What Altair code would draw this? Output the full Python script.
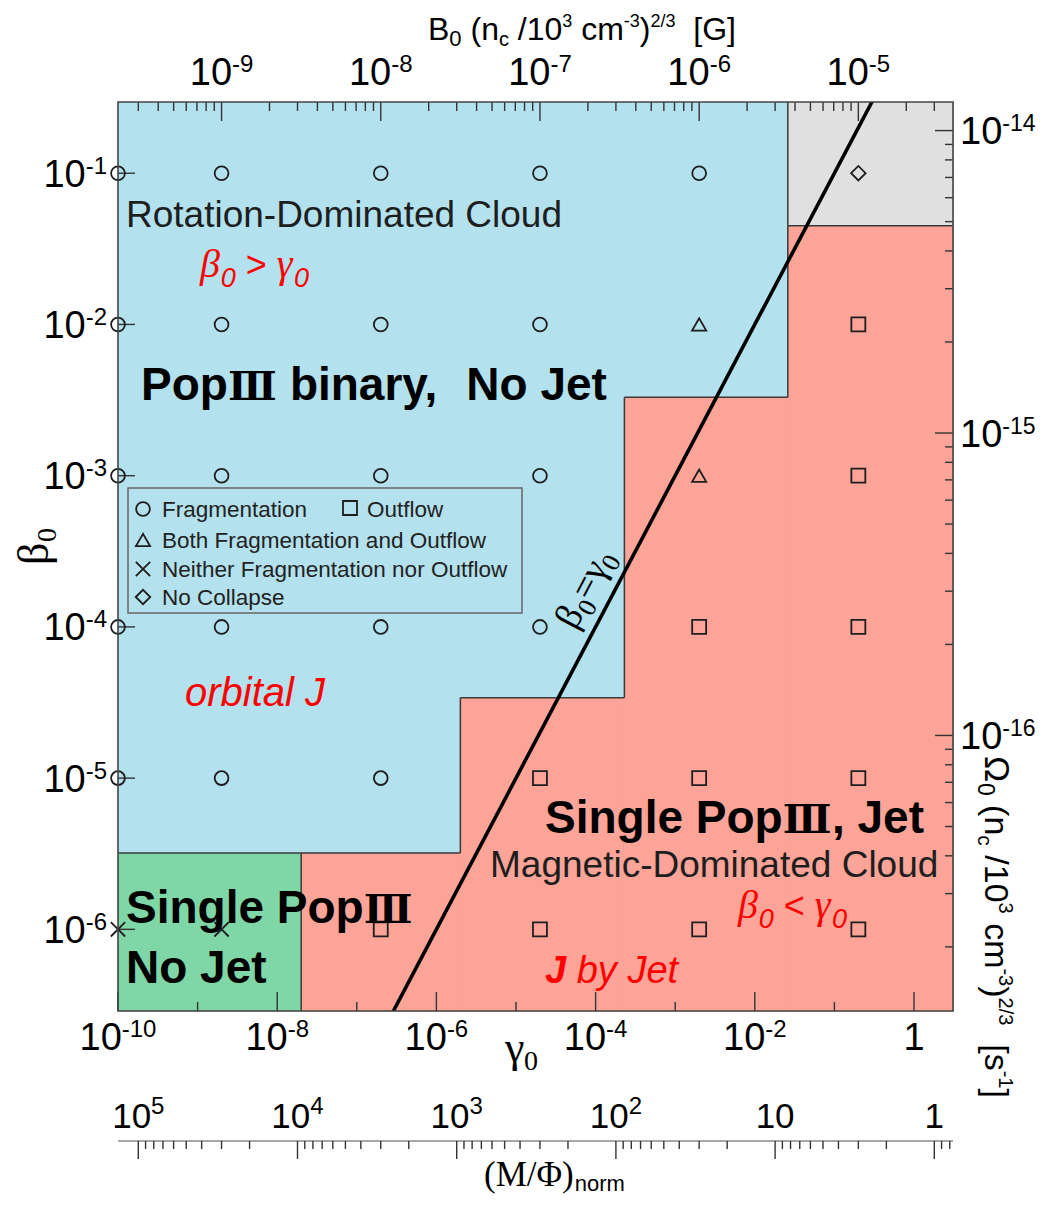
import math
import altair as alt
import pandas as pd

# ------------------------------------------------------------------ data
gamma_cols = [1e-10, 2e-9, 2e-7, 2e-5, 2e-3, 2e-1]
beta_rows = [1e-1, 1e-2, 1e-3, 1e-4, 1e-5, 1e-6]
OUTCOMES = ["Fragmentation", "Outflow", "Both Fragmentation and Outflow",
            "Neither Fragmentation nor Outflow", "No Collapse"]
F, O, B, N, C = OUTCOMES
outcome_grid = [
    [F, F, F, F, F, C],
    [F, F, F, F, B, O],
    [F, F, F, F, B, O],
    [F, F, F, F, O, O],
    [F, F, F, O, O, O],
    [N, N, O, O, O, O],
]
# corners of the magnetic-dominated (red) staircase region
step_gamma = [2e-8, 2e-6, 2.3e-4, 2.6e-2]
step_beta = [3.2e-6, 3.4e-5, 3.3e-3, 4.5e-2]
# beta0 = gamma0 line
line_gamma = [1e-7, 1.0]
line_beta = [1e-7, 1.0]

GMIN, GMAX = 1e-10, 10 ** 0.49
BMIN, BMAX = 10 ** -6.54, 10 ** -0.529

# secondary-axis calibrations
B_REF = (2e-9, 1e-9)            # gamma -> B0      (B ∝ gamma^1/2)
OM_REF = (10 ** -0.718, 1e-14)  # beta  -> Omega0  (Ω ∝ beta^1/2)
MP_REF = (10 ** -9.745, 1e5)    # gamma -> (M/Φ)   (∝ gamma^-1/2)

g_exps = [-10, -8, -6, -4, -2, 0]
b_exps = [-1, -2, -3, -4, -5, -6]
B_exps = [-9, -8, -7, -6, -5]
Om_exps = [-14, -15, -16]
MP_exps = [5, 4, 3, 2, 1, 0]

# ------------------------------------------------------------------ layout / style
W, H = 835, 909
X0, Y0 = 118, 102
MP_OFFSET = 130

BLUE = "#B3E1EE"
RED_FILL = "#FBA497"
GREEN = "#7FD6A6"
GRAY = "#E0E0E0"
RED = "#FF0000"
TICK = "#333333"
SANS = "Liberation Sans, DejaVu Sans"
ROMAN = "DejaVu Serif, Noto Sans CJK JP"
SERIF = "Liberation Serif, DejaVu Serif"

ARIAL = {" ": 278, "(": 333, ")": 333, "/": 278, "-": 333, "[": 278, "]": 278, "<": 584, ">": 584,
         "=": 584, "B": 667, "G": 778, "J": 500, "M": 833, "Ω": 768, "a": 556, "b": 556, "c": 500,
         "e": 556, "i": 222, "l": 222, "m": 833, "n": 556, "o": 556, "r": 333, "s": 500, "t": 278,
         "u": 556, "y": 500}
ARIAL_B = {" ": 278, ",": 278, "P": 667, "S": 667, "N": 722, "J": 556, "o": 611, "p": 611, "i": 278,
           "n": 611, "g": 611, "l": 278, "e": 556, "b": 611, "a": 556, "r": 389, "y": 556, "t": 333}
TIMES = {"β": 520, "γ": 430, "=": 564, "(": 333, ")": 333, "/": 278, "M": 889, "Φ": 760, " ": 250}
SERIF_STYLES = {"serif", "r_serif_it"}


def text_w(t, style, size):
    if style in SERIF_STYLES:
        table, dflt = TIMES, 500
    elif style in ("bold", "r_sans_bi"):
        table, dflt = ARIAL_B, 611
    elif style == "roman":
        table, dflt = {}, 1230
    else:
        table, dflt = ARIAL, 556
    return sum(table.get(ch, dflt) for ch in t) / 1000.0 * size


def pow_parts(e):
    if e == 0:
        return "1", ""
    if e == 1:
        return "10", ""
    return "10", str(e)


def decade_ticks(lo, hi, ks):
    out = []
    for d in range(math.floor(math.log10(lo)) - 1, math.ceil(math.log10(hi)) + 2):
        for k in ks:
            v = k * 10.0 ** d
            if lo * (1 - 1e-9) <= v <= hi * (1 + 1e-9):
                out.append(v)
    return out


B_lo = B_REF[1] * (GMIN / B_REF[0]) ** 0.5
B_hi = B_REF[1] * (GMAX / B_REF[0]) ** 0.5
OM_lo = OM_REF[1] * (BMIN / OM_REF[0]) ** 0.5
OM_hi = OM_REF[1] * (BMAX / OM_REF[0]) ** 0.5
MP_hi = MP_REF[1] * (GMIN / MP_REF[0]) ** -0.5
MP_lo = MP_REF[1] * (GMAX / MP_REF[0]) ** -0.5

XS = alt.Scale(type="log", domain=[GMIN, GMAX], nice=False)
YS = alt.Scale(type="log", domain=[BMIN, BMAX], nice=False)
BS = alt.Scale(type="log", domain=[B_lo, B_hi], nice=False)
OS = alt.Scale(type="log", domain=[OM_lo, OM_hi], nice=False)
MS = alt.Scale(type="log", domain=[MP_lo, MP_hi], reverse=True, nice=False)


def enc_x(f, sc):
    return alt.X(f, type="quantitative", scale=sc, axis=None)


def enc_y(f, sc):
    return alt.Y(f, type="quantitative", scale=sc, axis=None)


def gx(f):
    return enc_x(f, XS)


def by(f):
    return enc_y(f, YS)


# ------------------------------------------------------------------ tick-label helpers
def hlabels(exps, sc, y_main, raise_, size_main, size_exp):
    """horizontal-axis labels 10^e centred on their ticks (through the scale sc)."""
    rows = []
    for e in exps:
        base, ex = pow_parts(e)
        rows.append({"v": 10.0 ** e, "base": base, "exp": ex})
    df = pd.DataFrame(rows)
    df["w"] = [round(text_w(x, "title", size_exp), 1) for x in df["exp"]]
    layers = []
    w10 = text_w("10", "title", size_main)
    for w, sub in df.groupby("w"):
        if w == 0:
            layers.append(alt.Chart(sub).mark_text(
                align="center", baseline="alphabetic", font=SANS, fontSize=size_main, color="black").encode(
                x=enc_x("v", sc), y=alt.value(y_main), text="base:N"))
            continue
        j = (w10 - w) / 2
        layers.append(alt.Chart(sub).mark_text(
            align="right", baseline="alphabetic", dx=j, font=SANS, fontSize=size_main, color="black").encode(
            x=enc_x("v", sc), y=alt.value(y_main), text="base:N"))
        layers.append(alt.Chart(sub).mark_text(
            align="left", baseline="alphabetic", dx=j, font=SANS, fontSize=size_exp, color="black").encode(
            x=enc_x("v", sc), y=alt.value(y_main - raise_), text="exp:N"))
    return layers


def vlabels(exps, sc, side, pad, raise_, size_main, size_exp):
    rows = [{"v": 10.0 ** e, "base": pow_parts(e)[0], "exp": pow_parts(e)[1]} for e in exps]
    df = pd.DataFrame(rows)
    wexp = max(text_w(x, "title", size_exp) for x in df["exp"])
    w10 = text_w("10", "title", size_main)
    dy = 0.358 * size_main
    if side == "left":
        xa, dxb, dxe, alb = 0, -(pad + wexp), -(pad + wexp), "right"
    else:
        xa, dxb, dxe, alb = W, pad, pad + w10, "left"
    return [
        alt.Chart(df).mark_text(align=alb, baseline="alphabetic", dx=dxb, dy=dy, font=SANS,
                                fontSize=size_main, color="black").encode(
            y=enc_y("v", sc), x=alt.value(xa), text="base:N"),
        alt.Chart(df).mark_text(align="left", baseline="alphabetic", dx=dxe, dy=dy - raise_, font=SANS,
                                fontSize=size_exp, color="black").encode(
            y=enc_y("v", sc), x=alt.value(xa), text="exp:N"),
    ]


# ------------------------------------------------------------------ main panel
bg_df = pd.DataFrame({"g1": [GMIN], "g2": [GMAX], "b1": [BMIN], "b2": [BMAX]})
blue_bg = alt.Chart(bg_df).mark_rect(color=BLUE, opacity=1).encode(
    x=gx("g1"), x2="g2", y=by("b1"), y2="b2")

red_df = pd.DataFrame({"g1": step_gamma, "g2": step_gamma[1:] + [GMAX],
                       "b1": [BMIN] * len(step_beta), "b2": step_beta})
red_rects = alt.Chart(red_df).mark_rect(color=RED_FILL, opacity=1, stroke=RED_FILL, strokeWidth=0.8).encode(
    x=gx("g1"), x2="g2", y=by("b1"), y2="b2")

green_df = pd.DataFrame({"g1": [GMIN], "g2": [step_gamma[0]], "b1": [BMIN], "b2": [step_beta[0]]})
green_rect = alt.Chart(green_df).mark_rect(color=GREEN, opacity=1).encode(
    x=gx("g1"), x2="g2", y=by("b1"), y2="b2")

gray_df = pd.DataFrame({"g1": [step_gamma[-1]], "g2": [GMAX], "b1": [step_beta[-1]], "b2": [BMAX]})
gray_rect = alt.Chart(gray_df).mark_rect(color=GRAY, opacity=1).encode(
    x=gx("g1"), x2="g2", y=by("b1"), y2="b2")

segs = [(GMIN, step_beta[0], step_gamma[0], step_beta[0]),
        (step_gamma[0], BMIN, step_gamma[0], step_beta[0])]
for i in range(len(step_gamma) - 1):
    segs.append((step_gamma[i], step_beta[i], step_gamma[i + 1], step_beta[i]))
    segs.append((step_gamma[i + 1], step_beta[i], step_gamma[i + 1], step_beta[i + 1]))
segs.append((step_gamma[-1], step_beta[-1], GMAX, step_beta[-1]))
segs.append((step_gamma[-1], step_beta[-1], step_gamma[-1], BMAX))
seg_df = pd.DataFrame(segs, columns=["g1", "b1", "g2", "b2"])
bounds = alt.Chart(seg_df).mark_rule(color="#3a3a3a", strokeWidth=1.5).encode(
    x=gx("g1"), x2="g2", y=by("b1"), y2="b2")

line_df = pd.DataFrame({"g": line_gamma, "b": line_beta})
eq_line = alt.Chart(line_df).mark_line(color="black", strokeWidth=3.6, clip=True).encode(
    x=gx("g"), y=by("b"))

pts = []
for i, bv in enumerate(beta_rows):
    for j, gv in enumerate(gamma_cols):
        pts.append({"g": gv, "b": bv, "outcome": outcome_grid[i][j]})
pts_df = pd.DataFrame(pts)
SHAPE_SCALE = alt.Scale(domain=OUTCOMES,
                        range=["circle", "square", "triangle-up", "M-1,-1L1,1M-1,1L1,-1", "diamond"])
SIZE_SCALE = alt.Scale(domain=OUTCOMES, range=[190, 210, 260, 190, 400])
points = alt.Chart(pts_df).mark_point(filled=False, color="#1e1e1e", strokeWidth=1.8, opacity=1).encode(
    x=gx("g"), y=by("b"),
    shape=alt.Shape("outcome:N", scale=SHAPE_SCALE, legend=None),
    size=alt.Size("outcome:N", scale=SIZE_SCALE, legend=None))

gmaj = pd.DataFrame({"g": [10.0 ** e for e in range(-10, 1, 2)]})
gmin = pd.DataFrame({"g": [10.0 ** e for e in range(-9, 0, 2)]})
bt_major = alt.Chart(gmaj).mark_rule(color=TICK, strokeWidth=1.4).encode(
    x=gx("g"), y=alt.value(H), y2=alt.value(H - 19))
bt_minor = alt.Chart(gmin).mark_rule(color=TICK, strokeWidth=1.4).encode(
    x=gx("g"), y=alt.value(H), y2=alt.value(H - 9))
bmaj = pd.DataFrame({"b": [10.0 ** e for e in b_exps]})
lt_major = alt.Chart(bmaj).mark_rule(color=TICK, strokeWidth=1.4).encode(
    y=by("b"), x=alt.value(0), x2=alt.value(17))

main = alt.layer(blue_bg, red_rects, green_rect, gray_rect, bounds, bt_major, bt_minor, lt_major,
                 eq_line, points,
                 *hlabels(g_exps, XS, H + 39, 13, 38, 24),
                 *vlabels(b_exps, YS, "left", 11, 13, 38, 24))

# ------------------------------------------------------------------ secondary axes
b_maj = decade_ticks(B_lo, B_hi, [1])
b_min = decade_ticks(B_lo, B_hi, range(2, 10))
top_df = pd.DataFrame({"B": b_maj + b_min, "len": [19] * len(b_maj) + [9] * len(b_min)})
top_ticks = alt.Chart(top_df).mark_rule(color=TICK, strokeWidth=1.4).encode(
    x=enc_x("B", BS), y=alt.Y("len:Q", scale=None, axis=None), y2=alt.value(0))
top_axis = alt.layer(top_ticks, *hlabels(B_exps, BS, -17, 13, 38, 24))

om_maj = decade_ticks(OM_lo, OM_hi, [1])
om_min = decade_ticks(OM_lo, OM_hi, range(2, 10))
om_df = pd.DataFrame({"Om": om_maj + om_min, "len": [18] * len(om_maj) + [8] * len(om_min)})
right_ticks = alt.Chart(om_df).mark_rule(color=TICK, strokeWidth=1.4).transform_calculate(
    xs=f"{W} - datum.len").encode(
    y=enc_y("Om", OS), x=alt.X("xs:Q", scale=None, axis=None), x2=alt.value(W))
right_axis = alt.layer(right_ticks, *vlabels(Om_exps, OS, "right", 7, 13, 38, 23))

mp_maj = decade_ticks(MP_lo, MP_hi, [1])
mp_min = decade_ticks(MP_lo, MP_hi, range(2, 10))
mp_df = pd.DataFrame({"M": mp_maj + mp_min, "len": [18] * len(mp_maj) + [8] * len(mp_min)})
YM = H + MP_OFFSET
mp_line = alt.Chart(pd.DataFrame({"M1": [MP_hi], "M2": [MP_lo]})).mark_rule(
    color="#a8a8a8", strokeWidth=2.2).encode(x=enc_x("M1", MS), x2="M2", y=alt.value(YM))
mp_ticks = alt.Chart(mp_df).mark_rule(color=TICK, strokeWidth=1.4).transform_calculate(
    ya=f"{YM}", yb=f"{YM} + datum.len").encode(
    x=enc_x("M", MS), y=alt.Y("ya:Q", scale=None, axis=None), y2=alt.Y2("yb:Q"))
mphi_axis = alt.layer(mp_line, mp_ticks, *hlabels(MP_exps, MS, YM - 13, 14, 35, 24))


# ------------------------------------------------------------------ annotations (rich text)
def rich(segs_, x, y, angle=0.0, anchor="start"):
    a = math.radians(angle)
    ca, sa = math.cos(a), math.sin(a)
    widths = [text_w(t, st, sz) for (t, st, sz, sh) in segs_]
    total = sum(widths)
    off = {"start": 0.0, "middle": -total / 2, "end": -total}[anchor]
    rows = []
    for (t, st, sz, sh), w in zip(segs_, widths):
        lead = text_w(t[: len(t) - len(t.lstrip())], st, sz)
        o = off + lead
        px = x + o * ca - sh * sa
        py = y + o * sa + sh * ca
        rows.append({"text": t.strip(), "style": st, "size": sz, "angle": angle % 360,
                     "px": px - X0, "py": py - Y0})
        off += w
    return rows


ann = []
ann += rich([("Rotation-Dominated Cloud", "sans", 37, 0)], 126, 227)
ann += rich([("Magnetic-Dominated Cloud", "sans", 37, 0)], 490, 877)
ann += rich([("Pop", "bold", 46, 0), ("Ⅲ", "roman", 40, 0), (" binary,", "bold", 46, 0),
             ("  No Jet", "bold", 46, 0)], 141, 400)
ann += rich([("Single Pop", "bold", 46, 0), ("Ⅲ", "roman", 40, 0), (", Jet", "bold", 46, 0)], 545, 833)
ann += rich([("Single Pop", "bold", 46, 0), ("Ⅲ", "roman", 40, 0)], 126, 923)
ann += rich([("No Jet", "bold", 46, 0)], 126, 983)
ann += rich([("β", "r_serif_it", 40, 0), ("0", "r_sans_it", 27, 10), (" > ", "r_sans", 36, 0),
             ("γ", "r_serif_it", 40, 0), ("0", "r_sans_it", 27, 10)], 200, 277)
ann += rich([("β", "r_serif_it", 40, 0), ("0", "r_sans_it", 27, 10), (" < ", "r_sans", 36, 0),
             ("γ", "r_serif_it", 40, 0), ("0", "r_sans_it", 27, 10)], 738, 918)
ann += rich([("orbital J", "r_sans_it", 40, 0)], 185, 706)
ann += rich([("J", "r_sans_bi", 38, 0), (" by Jet", "r_sans_it", 38, 0)], 545, 983)
ann += rich([("β", "serif", 38, 0), ("0", "serif", 26, 8), ("=", "serif", 38, 0),
             ("γ", "serif", 38, 0), ("0", "serif", 26, 8)], 595, 594, angle=-62.2, anchor="middle")
# axis titles
ann += rich([("β", "serif", 44, 0), ("0", "serif", 28, 8)], 48, 565, angle=-90)
ann += rich([("γ", "serif", 44, 0), ("0", "serif", 28, 8)], 505, 1062)
ann += rich([("(M/Φ)", "serif", 35, 0), ("norm", "title", 22, 5)], 484, 1186)
ann += rich([("B", "title", 32, 0), ("0", "title", 22, 6), (" (", "title", 32, 0), ("n", "title", 32, 0),
             ("c", "title", 20, 6), (" /10", "title", 32, 0), ("3", "title", 18, -13),
             (" cm", "title", 32, 0), ("-3", "title", 18, -13), (")", "title", 32, 0),
             ("2/3", "title", 18, -13), ("  [G]", "title", 32, 0)], 428, 40)
ann += rich([("Ω", "title", 35, 0), ("0", "title", 23, 7), (" (", "title", 34, 0), ("n", "title", 34, 0),
             ("c", "title", 21, 7), (" /10", "title", 34, 0), ("3", "title", 20, -14),
             (" cm", "title", 34, 0), ("-3", "title", 20, -14), (")", "title", 34, 0),
             ("2/3", "title", 20, -14), ("  [s", "title", 34, 0), ("-1", "title", 20, -14),
             ("]", "title", 34, 0)], 985, 756, angle=90)

# legend (manual, inside the plot)
legend_sym = [(143, 509), (350, 508), (143, 540), (143, 569), (143, 597)]
legend_txt = [(162, 517), (367, 517), (162, 548), (162, 577), (162, 605)]
for name, (tx, ty) in zip(OUTCOMES, legend_txt):
    ann += rich([(name, "legend", 22.5, 0)], tx, ty)
leg_df = pd.DataFrame({"outcome": OUTCOMES,
                       "px": [p[0] - X0 for p in legend_sym], "py": [p[1] - Y0 for p in legend_sym]})

ann_df = pd.DataFrame(ann)
STYLES = {
    "sans": dict(font=SANS, color="#1e1e1e"),
    "title": dict(font=SANS, color="black"),
    "bold": dict(font=SANS, fontWeight="bold", color="black"),
    "roman": dict(font=ROMAN, fontWeight="bold", color="black"),
    "serif": dict(font=SERIF, color="black"),
    "r_serif_it": dict(font=SERIF, fontStyle="italic", color=RED),
    "r_sans_it": dict(font=SANS, fontStyle="italic", color=RED),
    "r_sans": dict(font=SANS, color=RED),
    "r_sans_bi": dict(font=SANS, fontStyle="italic", fontWeight="bold", color=RED),
    "legend": dict(font=SANS, color="#222222"),
}
text_layers = []
for st, props in STYLES.items():
    sub = ann_df[ann_df["style"] == st]
    if len(sub) == 0:
        continue
    text_layers.append(
        alt.Chart(sub).mark_text(align="left", baseline="alphabetic", **props).encode(
            x=alt.X("px:Q", scale=None, axis=None), y=alt.Y("py:Q", scale=None, axis=None),
            text="text:N",
            size=alt.Size("size:Q", scale=None, legend=None),
            angle=alt.Angle("angle:Q", scale=None, legend=None)))

one = pd.DataFrame({"a": [0]})
leg_box = alt.Chart(one).mark_rect(fillOpacity=0, stroke="#666666", strokeWidth=1.5).encode(
    x=alt.value(128 - X0), x2=alt.value(522 - X0), y=alt.value(488 - Y0), y2=alt.value(613 - Y0))
leg_pts = alt.Chart(leg_df).mark_point(filled=False, color="#1e1e1e", strokeWidth=1.8, opacity=1).encode(
    x=alt.X("px:Q", scale=None, axis=None), y=alt.Y("py:Q", scale=None, axis=None),
    shape=alt.Shape("outcome:N", scale=SHAPE_SCALE, legend=None),
    size=alt.Size("outcome:N", scale=SIZE_SCALE, legend=None))
frame = alt.Chart(one).mark_rect(fillOpacity=0, stroke="#444444", strokeWidth=1.6).encode(
    x=alt.value(0), x2=alt.value(W), y=alt.value(0), y2=alt.value(H))

chart = alt.layer(main, top_axis, right_axis, mphi_axis, leg_box, leg_pts, frame, *text_layers).resolve_scale(
    x="independent", y="independent"
).properties(
    width=W, height=H,
    autosize=alt.AutoSizeParams(type="none"),
    padding={"left": X0 - 8, "top": Y0 - 8, "right": 83, "bottom": 187},
).configure_view(stroke=None).configure(background="white")

chart.save("out.html", embed_options={"renderer": "svg", "actions": False})
